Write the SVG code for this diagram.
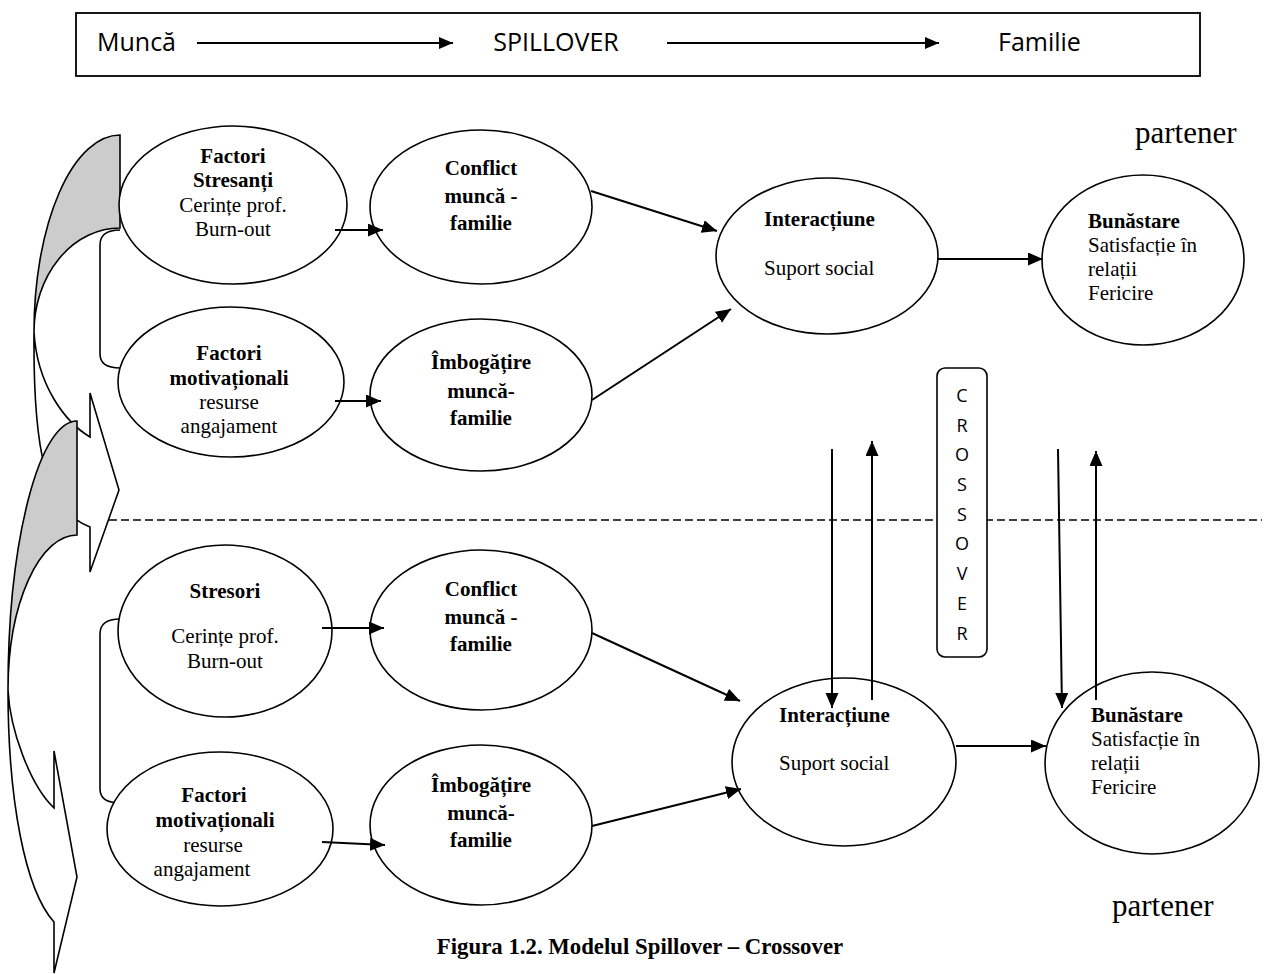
<svg xmlns="http://www.w3.org/2000/svg" width="1275" height="974" viewBox="0 0 1275 974">
<defs>
<style>
.el{fill:#fff;stroke:#000;stroke-width:1.6}
.t{font-family:"Liberation Serif","Times New Roman",serif;font-size:21px;fill:#000}
.big{font-size:31px}
.cap{font-size:22.8px}
.b{font-weight:bold}
.c{text-anchor:middle}
.sans{font-family:"Open Sans","Lato",sans-serif;fill:#000}
.ln{stroke:#000;stroke-width:2;fill:none}
.sh{stroke:#000;stroke-width:1.6;stroke-linejoin:miter}
</style>
<marker id="ah" markerUnits="userSpaceOnUse" markerWidth="16" markerHeight="14" refX="15" refY="6.5" orient="auto">
<path d="M0,0 L15,6.5 L0,13 Z" fill="#000"/>
</marker>
<marker id="ahs" markerUnits="userSpaceOnUse" markerWidth="16" markerHeight="14" refX="14" refY="6" orient="auto">
<path d="M0,0 L14,6 L0,12 Z" fill="#000"/>
</marker>
</defs>
<rect width="1275" height="974" fill="#fff"/>

<!-- top banner -->
<g id="banner">
<rect x="76" y="13" width="1124" height="63" fill="#fff" stroke="#000" stroke-width="1.8"/>
<text class="sans" x="97" y="51" font-size="25">Muncă</text>
<line x1="197" y1="43" x2="453" y2="43" stroke="#000" stroke-width="2" marker-end="url(#ahs)"/>
<text class="sans" x="556" y="51" font-size="25" text-anchor="middle">SPILLOVER</text>
<line x1="667" y1="43" x2="939" y2="43" stroke="#000" stroke-width="2" marker-end="url(#ahs)"/>
<text class="sans" x="998" y="51" font-size="25">Familie</text>
</g>

<!-- curved arrows on the left -->
<g id="curved-arrow-top">
<path class="sh" fill="#fff" d="M90,437 L90,393 L119,490 L90,572 L90,527 C45,510 33,450 34,332 C37,385 65,422 90,437 Z"/>
<path class="sh" fill="#cccccc" d="M120,135 L120,228 A86,104 0 0 0 34,332 A86,197 0 0 1 120,135 Z"/>
</g>
<g id="curved-arrow-bottom">
<path class="sh" fill="#fff" d="M54,808 L54,751 L77,877 L54,973 L54,922 C25,890 8,800 8,690 C10,730 30,785 54,808 Z"/>
<path class="sh" fill="#cccccc" d="M77,421 L77,535 A69,155 0 0 0 8,690 A69,269 0 0 1 77,421 Z"/>
</g>

<!-- brackets -->
<g id="brackets" fill="none" stroke="#000" stroke-width="1.6">
<path d="M120,230 Q100,230 100,245 L100,354 Q100,368 120,368"/>
<path d="M120,619 Q100,619 100,634 L100,789 Q100,803 120,803"/>
</g>

<!-- dashed separator -->
<line x1="109" y1="520" x2="1262" y2="520" stroke="#000" stroke-width="1.6" stroke-dasharray="8,4"/>

<!-- top row nodes -->
<g id="n-factori-stresanti">
<ellipse class="el" cx="233" cy="205" rx="114" ry="79"/>
<text class="t b c" x="233" y="163">Factori</text>
<text class="t b c" x="233" y="187">Stresanți</text>
<text class="t c" x="233" y="212">Cerințe prof.</text>
<text class="t c" x="233" y="236">Burn-out</text>
</g>
<g id="n-factori-motiv-top">
<ellipse class="el" cx="231" cy="382" rx="113" ry="75"/>
<text class="t b c" x="229" y="360">Factori</text>
<text class="t b c" x="229" y="385">motivaționali</text>
<text class="t c" x="229" y="409">resurse</text>
<text class="t c" x="229" y="433">angajament</text>
</g>
<g id="n-conflict-top">
<ellipse class="el" cx="481" cy="207" rx="111" ry="77"/>
<text class="t b c" x="481" y="175">Conflict</text>
<text class="t b c" x="481" y="203">muncă -</text>
<text class="t b c" x="481" y="230">familie</text>
</g>
<g id="n-imbogatire-top">
<ellipse class="el" cx="481" cy="395" rx="111" ry="76"/>
<text class="t b c" x="481" y="369">Îmbogățire</text>
<text class="t b c" x="481" y="398">muncă-</text>
<text class="t b c" x="481" y="425">familie</text>
</g>
<g id="n-interactiune-top">
<ellipse class="el" cx="827" cy="256" rx="111" ry="78"/>
<text class="t b" x="764" y="226">Interacțiune</text>
<text class="t" x="764" y="275">Suport social</text>
</g>
<g id="n-bunastare-top">
<ellipse class="el" cx="1143" cy="260" rx="101" ry="85"/>
<text class="t b" x="1088" y="228">Bunăstare</text>
<text class="t" x="1088" y="252">Satisfacție în</text>
<text class="t" x="1088" y="276">relații</text>
<text class="t" x="1088" y="300">Fericire</text>
</g>

<!-- bottom row nodes -->
<g id="n-stresori">
<ellipse class="el" cx="225" cy="631" rx="107" ry="86"/>
<text class="t b c" x="225" y="598">Stresori</text>
<text class="t c" x="225" y="643">Cerințe prof.</text>
<text class="t c" x="225" y="668">Burn-out</text>
</g>
<g id="n-factori-motiv-bottom">
<ellipse class="el" cx="220" cy="829" rx="113" ry="77"/>
<text class="t b c" x="214" y="802">Factori</text>
<text class="t b c" x="215" y="827">motivaționali</text>
<text class="t c" x="213" y="852">resurse</text>
<text class="t c" x="202" y="876">angajament</text>
</g>
<g id="n-conflict-bottom">
<ellipse class="el" cx="481" cy="630" rx="111" ry="80"/>
<text class="t b c" x="481" y="596">Conflict</text>
<text class="t b c" x="481" y="624">muncă -</text>
<text class="t b c" x="481" y="651">familie</text>
</g>
<g id="n-imbogatire-bottom">
<ellipse class="el" cx="481" cy="825" rx="111" ry="80"/>
<text class="t b c" x="481" y="792">Îmbogățire</text>
<text class="t b c" x="481" y="820">muncă-</text>
<text class="t b c" x="481" y="847">familie</text>
</g>
<g id="n-interactiune-bottom">
<ellipse class="el" cx="844" cy="762" rx="112" ry="84"/>
<text class="t b" x="779" y="722">Interacțiune</text>
<text class="t" x="779" y="770">Suport social</text>
</g>
<g id="n-bunastare-bottom">
<ellipse class="el" cx="1152" cy="763" rx="107" ry="91"/>
<text class="t b" x="1091" y="722">Bunăstare</text>
<text class="t" x="1091" y="746">Satisfacție în</text>
<text class="t" x="1091" y="770">relații</text>
<text class="t" x="1091" y="794">Fericire</text>
</g>

<!-- crossover box -->
<g id="n-crossover">
<rect x="937" y="368" width="50" height="289" rx="8" fill="#fff" stroke="#000" stroke-width="1.6"/>
<g class="sans" font-size="18" text-anchor="middle">
<text x="962" y="402">C</text>
<text x="962" y="432">R</text>
<text x="962" y="461">O</text>
<text x="962" y="491">S</text>
<text x="962" y="521">S</text>
<text x="962" y="550">O</text>
<text x="962" y="580">V</text>
<text x="962" y="610">E</text>
<text x="962" y="640">R</text>
</g>
</g>

<!-- connectors -->
<g id="connectors" class="ln" marker-end="url(#ah)">
<line x1="335" y1="230" x2="383" y2="230"/>
<line x1="335" y1="401" x2="381" y2="401"/>
<line x1="591" y1="191" x2="717" y2="231"/>
<line x1="592" y1="400" x2="731" y2="309"/>
<line x1="938" y1="259" x2="1043" y2="259"/>
<line x1="322" y1="628" x2="384" y2="628"/>
<line x1="322" y1="842" x2="385" y2="845"/>
<line x1="592" y1="633" x2="740" y2="701"/>
<line x1="592" y1="826" x2="741" y2="789"/>
<line x1="956" y1="746" x2="1046" y2="746"/>
<line x1="832" y1="449" x2="832" y2="708"/>
<line x1="872" y1="700" x2="872" y2="441"/>
<line x1="1058" y1="449" x2="1062" y2="708"/>
<line x1="1096" y1="700" x2="1096" y2="451"/>
</g>

<!-- labels -->
<text class="t big" x="1135" y="143">partener</text>
<text class="t big" x="1112" y="916">partener</text>
<text class="t b c cap" x="640" y="954">Figura 1.2. Modelul Spillover – Crossover</text>
</svg>
